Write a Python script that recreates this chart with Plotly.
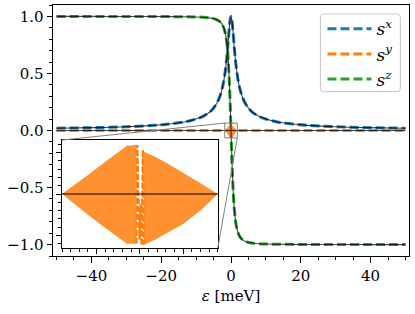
import plotly.graph_objects as go

# ---------------- data ----------------
eps = [-50, -40, -30, -22, -17, -13, -10, -8, -6, -5, -4, -3, -2.5, -2, -1.5, -1.25, -1, -0.75, -0.5, -0.25,
       0, 0.25, 0.5, 0.75, 1, 1.25, 1.5, 2, 2.5, 3, 4, 5, 6, 8, 10, 13, 17, 22, 30, 40, 50]
s_x = [0.020, 0.025, 0.033, 0.045, 0.059, 0.077, 0.100, 0.124, 0.164, 0.196, 0.243, 0.316, 0.371, 0.447, 0.555, 0.625, 0.707, 0.800, 0.894, 0.970,
       1.000, 0.970, 0.894, 0.800, 0.707, 0.625, 0.555, 0.447, 0.371, 0.316, 0.243, 0.196, 0.164, 0.124, 0.100, 0.077, 0.059, 0.045, 0.033, 0.025, 0.020]
s_z = [1.000, 1.000, 0.999, 0.999, 0.998, 0.997, 0.995, 0.992, 0.986, 0.981, 0.970, 0.949, 0.928, 0.894, 0.832, 0.781, 0.707, 0.600, 0.447, 0.243,
       0.000, -0.243, -0.447, -0.600, -0.707, -0.781, -0.832, -0.894, -0.928, -0.949, -0.970, -0.981, -0.986, -0.992, -0.995, -0.997, -0.998, -0.999, -0.999, -1.000, -1.000]

# s^y : flat part and the oscillating region near 0
eps_y_flat = [-50, 50]
s_y_flat = [0.0, 0.0]
# envelope of the densely oscillating part (left and right of the centre)
eps_env_L = [-1.8, -1.5, -1.2, -0.9, -0.6, -0.3, -0.08]
env_up_L = [0.0, 0.011, 0.023, 0.035, 0.047, 0.058, 0.059]
env_lo_L = [0.0, -0.012, -0.025, -0.037, -0.049, -0.060, -0.060]
eps_env_R = [0.09, 0.35, 0.7, 1.0, 1.4, 1.8]
env_up_R = [0.051, 0.045, 0.035, 0.026, 0.013, 0.0]
env_lo_R = [-0.061, -0.055, -0.045, -0.036, -0.020, 0.0]
# individual oscillation strokes at the centre
eps_c = [-0.08, -0.06, -0.01, 0.02, 0.04, 0.07, 0.09]
s_y_c = [-0.060, 0.059, -0.055, -0.012, -0.062, 0.053, -0.061]

x_ticks = [-40, -20, 0, 20, 40]
y_ticks = [-1.0, -0.5, 0.0, 0.5, 1.0]
labels = ["<i>s</i><sup><i>x</i></sup>", "<i>s</i><sup><i>y</i></sup>", "<i>s</i><sup><i>z</i></sup>"]

# ---------------- style ----------------
C_BLUE, C_ORANGE, C_GREEN = "#1f77b4", "#ff7f0e", "#2ca02c"
EXACT = "rgba(0,0,0,0.72)"
DASH = "9px,4px"
FONT = "DejaVu Serif"

XR = [-51, 51]
YR = [-1.1, 1.1]
IXR = [-1.8, 1.8]
IYR = [-0.065, 0.065]
IDX = [0.0253, 0.463]
IDY = [0.032, 0.462]

fig = go.Figure()

def add_sy(xa, ya):
    # dense region fills
    fig.add_trace(go.Scatter(x=eps_env_L + eps_env_L[::-1], y=env_up_L + env_lo_L[::-1],
                             fill="toself", fillcolor="rgba(255,127,14,0.86)", line=dict(width=0),
                             mode="lines", showlegend=False, hoverinfo="skip", xaxis=xa, yaxis=ya))
    fig.add_trace(go.Scatter(x=eps_env_R + eps_env_R[::-1], y=env_up_R + env_lo_R[::-1],
                             fill="toself", fillcolor="rgba(255,127,14,0.86)", line=dict(width=0),
                             mode="lines", showlegend=False, hoverinfo="skip", xaxis=xa, yaxis=ya))
    fig.add_trace(go.Scatter(x=eps_c, y=s_y_c, mode="lines",
                             line=dict(color=C_ORANGE, width=2.3, dash="6px,2px"),
                             showlegend=False, hoverinfo="skip", xaxis=xa, yaxis=ya))

# dashed "numerical" curves (legend entries)
fig.add_trace(go.Scatter(x=eps, y=s_x, mode="lines", name=labels[0], line_shape="spline",
                         line=dict(color=C_BLUE, width=3, dash=DASH)))
fig.add_trace(go.Scatter(x=eps_y_flat, y=s_y_flat, mode="lines", name=labels[1],
                         line=dict(color=C_ORANGE, width=3, dash=DASH)))
fig.add_trace(go.Scatter(x=eps, y=s_z, mode="lines", name=labels[2], line_shape="spline",
                         line=dict(color=C_GREEN, width=3, dash=DASH)))
add_sy("x", "y")
# solid "exact" curves
for yy in (s_x, s_z):
    fig.add_trace(go.Scatter(x=eps, y=yy, mode="lines", line_shape="spline",
                             line=dict(color=EXACT, width=1.1), showlegend=False, hoverinfo="skip"))
fig.add_trace(go.Scatter(x=eps_y_flat, y=s_y_flat, mode="lines",
                         line=dict(color=EXACT, width=1.1), showlegend=False, hoverinfo="skip"))

# inset
add_sy("x2", "y2")
fig.add_trace(go.Scatter(x=eps_y_flat, y=s_y_flat, mode="lines", line=dict(color="black", width=1.1),
                         showlegend=False, hoverinfo="skip", xaxis="x2", yaxis="y2"))

axis_common = dict(showline=True, mirror=True, linecolor="black", linewidth=1, ticks="outside",
                   ticklen=5.5, tickwidth=1, tickcolor="black", showgrid=False, zeroline=False,
                   automargin=False)

fig.update_layout(
    width=415, height=314,
    margin=dict(l=53, r=6, t=5, b=58, autoexpand=False),
    paper_bgcolor="white", plot_bgcolor="white",
    font=dict(family=FONT, size=15, color="black"),
    xaxis=dict(range=XR, tickvals=x_ticks, ticktext=[("\u2212" if v < 0 else "") + str(abs(v)) for v in x_ticks],
               minor=dict(dtick=5, tick0=0, ticklen=3, ticks="outside", tickcolor="black"),
               title=dict(text="<i>ε</i> [meV]", standoff=6, font=dict(size=15)), **axis_common),
    yaxis=dict(range=YR, tickvals=y_ticks, ticktext=[("\u2212" if v < 0 else "") + f"{abs(v):.1f}" for v in y_ticks],
               minor=dict(dtick=0.1, tick0=0, ticklen=3, ticks="outside", tickcolor="black"), **axis_common),
    xaxis2=dict(domain=IDX, anchor="y2", range=IXR, dtick=1, tick0=0, showticklabels=False,
                minor=dict(dtick=0.2, tick0=0, ticklen=3, ticks="outside", tickcolor="black"), **axis_common),
    yaxis2=dict(domain=IDY, anchor="x2", range=IYR, dtick=0.05, tick0=0, showticklabels=False,
                minor=dict(dtick=0.01, tick0=0, ticklen=3, ticks="outside", tickcolor="black"), **axis_common),
    legend=dict(x=0.757, y=0.975, xanchor="left", yanchor="top", bgcolor="rgba(0,0,0,0)",
                borderwidth=0, font=dict(size=17), tracegroupgap=0, itemwidth=44),
    showlegend=True,
)

# rounded legend frame
lx0, lx1, ly0, ly1 = 0.7513, 0.9759, 0.6546, 0.9641
rx, ry = 0.012, 0.017
path = (f"M {lx0+rx},{ly0} L {lx1-rx},{ly0} Q {lx1},{ly0} {lx1},{ly0+ry} L {lx1},{ly1-ry} "
        f"Q {lx1},{ly1} {lx1-rx},{ly1} L {lx0+rx},{ly1} Q {lx0},{ly1} {lx0},{ly1-ry} "
        f"L {lx0},{ly0+ry} Q {lx0},{ly0} {lx0+rx},{ly0} Z")
fig.add_shape(type="path", path=path, xref="paper", yref="paper",
              line=dict(color="#cccccc", width=1.2), fillcolor="white", layer="below")

# inset indicator rectangle and connector lines
fig.add_shape(type="rect", x0=IXR[0], x1=IXR[1], y0=IYR[0], y1=IYR[1], xref="x", yref="y",
              line=dict(color="#808080", width=1), layer="above")
def px(v):
    return (v - XR[0]) / (XR[1] - XR[0])
def py(v):
    return (v - YR[0]) / (YR[1] - YR[0])
fig.add_shape(type="line", xref="paper", yref="paper", x0=IDX[0], y0=IDY[1], x1=px(IXR[0]), y1=py(IYR[1]),
              line=dict(color="#808080", width=1), layer="above")
fig.add_shape(type="line", xref="paper", yref="paper", x0=IDX[1], y0=IDY[0], x1=px(IXR[1]), y1=py(IYR[0]),
              line=dict(color="#808080", width=1), layer="above")

fig.write_html("out.html", config={"displayModeBar": False},
               post_script="document.body.style.margin='0';document.body.style.overflow='hidden';")
